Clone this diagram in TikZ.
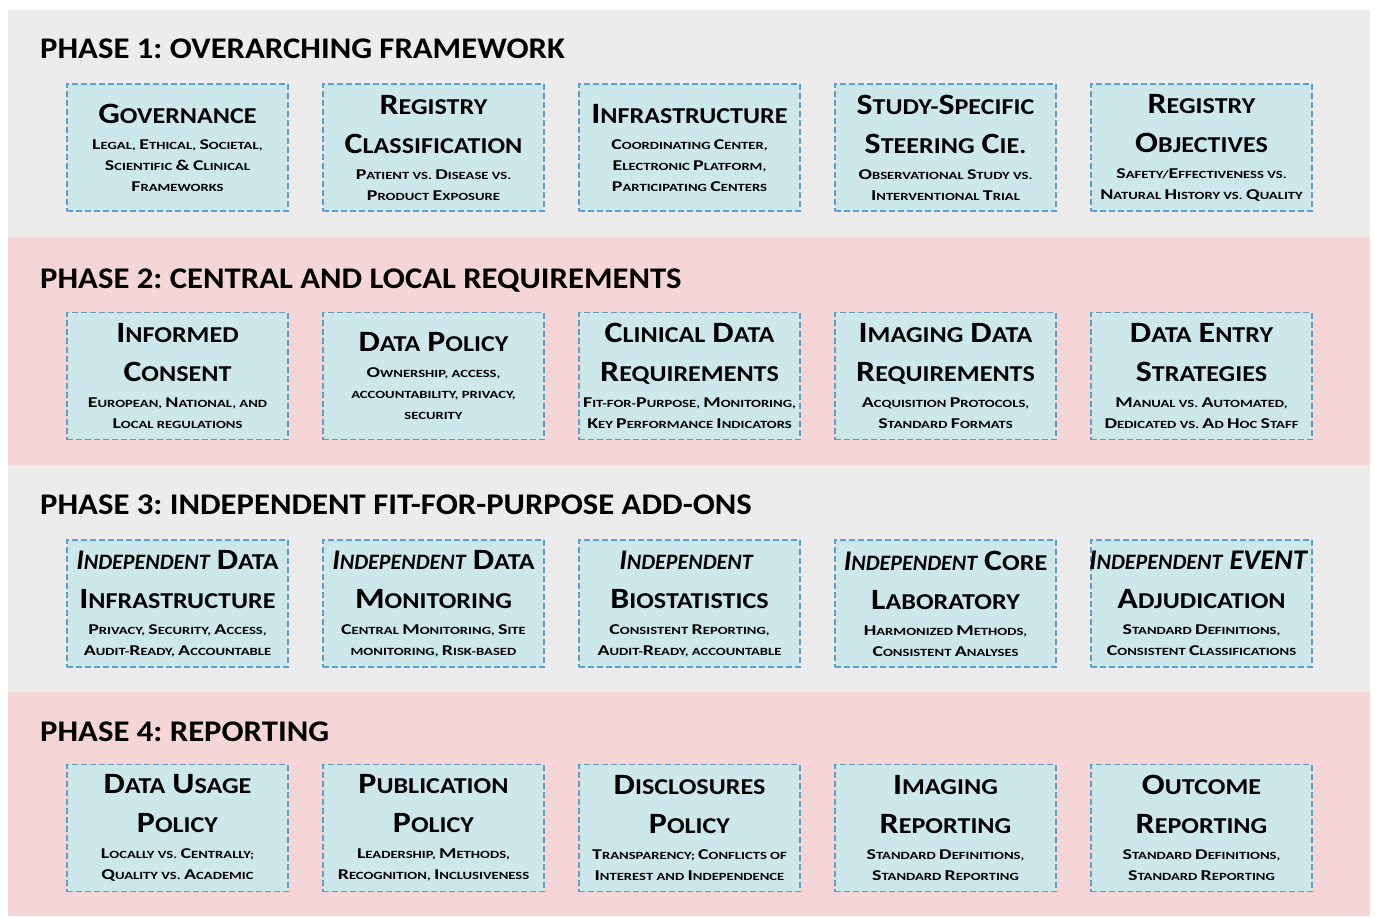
\documentclass[tikz,border=0pt]{standalone}
\usepackage{fontspec}
\setmainfont{Carlito}
\newfontfamily\headfont[FakeStretch=1.09]{Carlito}
\newfontfamily\titlefont[FakeStretch=1.15]{Carlito}
\newfontfamily\subfont[FakeStretch=1.33]{Carlito}
\usepackage{tikz}
\usetikzlibrary{positioning}
\frenchspacing

\definecolor{grayband}{RGB}{236,236,236}
\definecolor{pinkband}{RGB}{245,213,213}
\definecolor{boxfill}{RGB}{204,232,234}
\definecolor{boxline}{RGB}{96,160,200}

% small caps by hand: capitals large, the rest as smaller capitals
\ExplSyntaxOn
\NewDocumentCommand \fsc { m m m }
  {
    \str_map_inline:nn { #3 }
      {
        \str_if_in:nnTF { ABCDEFGHIJKLMNOPQRSTUVWXYZ& } { ##1 }
          { { \fontsize { #1 } { 0 } \selectfont ##1 } }
          { { \fontsize { #2 } { 0 } \selectfont \str_uppercase:n { ##1 } } }
      }
  }
\ExplSyntaxOff

\newcommand\subgap{}
\NewDocumentCommand\boxhead{om}{{\titlefont\fontsize{22.7}{39}\selectfont\noindent
  \spaceskip=7pt\relax
  \hbox to\hsize{\hss\IfValueT{#1}{{\normalfont\bfseries\itshape\fsc{28.5}{22}{#1}} }%
  \fsc{29.5}{22.7}{#2}\hss}\par}%
  \gdef\subgap{\vskip5pt}}
\NewDocumentCommand\boxsub{m}{\subgap\gdef\subgap{}{\subfont\fontsize{11}{21}\selectfont\noindent
  \hbox to\hsize{\hss\fsc{15}{11}{#1}\hss}\par}}

\begin{document}
\begin{tikzpicture}[x=1pt, y=-1pt,
		band/.style={draw=none},
		phasetitle/.style={anchor=base west, inner sep=0pt,
				font=\headfont\fontsize{30}{36}\selectfont\bfseries},
		phasebox/.style={rectangle, draw=boxline, line width=1.3pt, dash pattern=on 6pt off 3pt,
				fill=boxfill, minimum width=221pt, minimum height=127pt, text width=221pt,
				align=center, inner sep=0pt, outer sep=0pt, font=\bfseries}]

	\useasboundingbox (0,0) rectangle (1375,916);
	\fill[white] (0,0) rectangle (1375,916);

	% Phase bands
	\fill[band, grayband] (8,10) rectangle (1370,237);
	\fill[band, pinkband] (8,237) rectangle (1370,465);
	\fill[band, grayband] (8,465) rectangle (1370,692);
	\fill[band, pinkband] (8,692) rectangle (1370,916);

	% Phase titles
	\node[phasetitle] (ph1) at (40,58) {PHASE 1: OVERARCHING FRAMEWORK};
	\node[phasetitle] (ph2) at (40,288) {PHASE 2: CENTRAL AND LOCAL REQUIREMENTS};
	\node[phasetitle] (ph3) at (40,514) {PHASE 3: INDEPENDENT FIT-FOR-PURPOSE ADD-ONS};
	\node[phasetitle] (ph4) at (40,741) {PHASE 4: REPORTING};

	% Phase 1
	\node[phasebox] (gov) at (177.5,147.5) {\boxhead{Governance}\boxsub{Legal, Ethical, Societal,}\boxsub{Scientific & Clinical}\boxsub{Frameworks}};
	\node[phasebox, right=35pt of gov] (regclass) {\boxhead{Registry}\boxhead{Classification}\boxsub{Patient vs. Disease vs.}\boxsub{Product Exposure}};
	\node[phasebox, right=35pt of regclass] (infra) {\boxhead{Infrastructure}\boxsub{Coordinating Center,}\boxsub{Electronic Platform,}\boxsub{Participating Centers}};
	\node[phasebox, right=35pt of infra] (steer) {\boxhead{Study-Specific}\boxhead{Steering Cie.}\boxsub{Observational Study vs.}\boxsub{Interventional Trial}};
	\node[phasebox, right=35pt of steer] (regobj) {\boxhead{Registry}\boxhead{Objectives}\boxsub{Safety/Effectiveness vs.}\boxsub{Natural History vs. Quality}};

	% Phase 2
	\node[phasebox] (consent) at (177.5,376) {\boxhead{Informed}\boxhead{Consent}\boxsub{European, National, and}\boxsub{Local regulations}};
	\node[phasebox, right=35pt of consent] (datapol) {\boxhead{Data Policy}\boxsub{Ownership, access,}\boxsub{accountability,  privacy,}\boxsub{security}};
	\node[phasebox, right=35pt of datapol] (clindata) {\boxhead{Clinical Data}\boxhead{Requirements}\boxsub{Fit-for-Purpose, Monitoring,}\boxsub{Key Performance Indicators}};
	\node[phasebox, right=35pt of clindata] (imgdata) {\boxhead{Imaging Data}\boxhead{Requirements}\boxsub{Acquisition Protocols,}\boxsub{Standard Formats}};
	\node[phasebox, right=35pt of imgdata] (entry) {\boxhead{Data Entry}\boxhead{Strategies}\boxsub{Manual vs. Automated,}\boxsub{Dedicated vs. Ad Hoc Staff}};

	% Phase 3
	\node[phasebox] (indinfra) at (177.5,603.5) {\boxhead[Independent]{Data}\boxhead{Infrastructure}\boxsub{Privacy, Security, Access,}\boxsub{Audit-Ready, Accountable}};
	\node[phasebox, right=35pt of indinfra] (indmon) {\boxhead[Independent]{Data}\boxhead{Monitoring}\boxsub{Central Monitoring, Site}\boxsub{monitoring, Risk-based}};
	\node[phasebox, right=35pt of indmon] (indbio) {\boxhead[Independent]{}\boxhead{Biostatistics}\boxsub{Consistent Reporting,}\boxsub{Audit-Ready, accountable}};
	\node[phasebox, right=35pt of indbio] (indcore) {\boxhead[Independent]{Core}\boxhead{Laboratory}\boxsub{Harmonized Methods,}\boxsub{Consistent Analyses}};
	\node[phasebox, right=35pt of indcore] (indevent) {\boxhead[Independent EVENT]{}\boxhead{Adjudication}\boxsub{Standard Definitions,}\boxsub{Consistent Classifications}};

	% Phase 4
	\node[phasebox] (usage) at (177.5,828) {\boxhead{Data Usage}\boxhead{Policy}\boxsub{Locally vs. Centrally;}\boxsub{Quality vs. Academic}};
	\node[phasebox, right=35pt of usage] (publ) {\boxhead{Publication}\boxhead{Policy}\boxsub{Leadership, Methods,}\boxsub{Recognition, Inclusiveness}};
	\node[phasebox, right=35pt of publ] (discl) {\boxhead{Disclosures}\boxhead{Policy}\boxsub{Transparency; Conflicts of}\boxsub{Interest and Independence}};
	\node[phasebox, right=35pt of discl] (imgrep) {\boxhead{Imaging}\boxhead{Reporting}\boxsub{Standard Definitions,}\boxsub{Standard Reporting}};
	\node[phasebox, right=35pt of imgrep] (outrep) {\boxhead{Outcome}\boxhead{Reporting}\boxsub{Standard Definitions,}\boxsub{Standard Reporting}};

\end{tikzpicture}
\end{document}
